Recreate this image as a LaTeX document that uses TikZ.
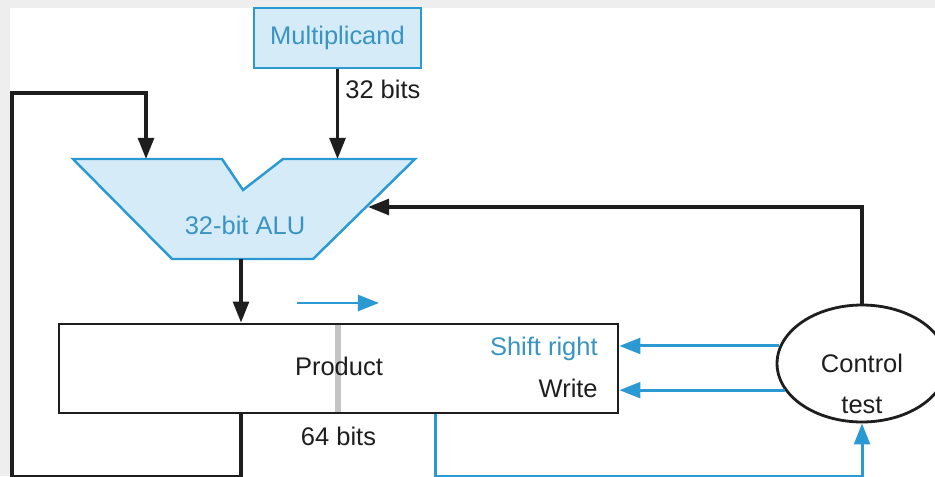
\documentclass[tikz,border=0pt]{standalone}
\usepackage{fontspec}
\setsansfont{Liberation Sans}
\usepackage{tikz}
\usetikzlibrary{arrows.meta,shapes.geometric,positioning}
\definecolor{hwBlue}{HTML}{2B9AD3}
\definecolor{hwFill}{HTML}{D5EBF7}
\definecolor{hwText}{HTML}{3A94C2}
\definecolor{hwInk}{HTML}{1E1E1E}
\definecolor{hwPage}{HTML}{EEEEEE}
\definecolor{hwSplit}{HTML}{C4C4C4}
\tikzset{
  hw diagram/.style={font=\sffamily\fontsize{14.5}{17}\selectfont, text=hwInk},
  hw box/.style={draw=hwBlue, fill=hwFill, line width=1.4pt, text=hwText,
    inner sep=0pt},
  hw reg/.style={draw=hwInk, line width=1.6pt, inner sep=0pt},
  hw ctl/.style={draw=hwInk, line width=1.6pt, ellipse, inner sep=0pt,
    minimum width=3.4cm, minimum height=2.34cm},
  hw label/.style={inner sep=0pt},
  hw wire/.style={draw=hwInk, line width=1.9pt},
  hw arrow/.style={hw wire, -{Triangle[length=12pt,width=9pt]}},
  hw signal/.style={draw=hwBlue, line width=1.7pt,
    -{Triangle[length=12pt,width=9pt]}},
  hw split/.style={draw=hwSplit, line width=3.5pt}
}

\begin{document}
\begin{tikzpicture}[hw diagram,x=0.02cm,y=-0.02cm]
\useasboundingbox (0,0) rectangle (935,476);
\clip (0,0) rectangle (935,476);
\fill[hwPage] (0,0) rectangle (935,476);
\fill[white] (10,8) rectangle (935,476);
% registers
\node[hw box, minimum width=3.34cm, minimum height=1.2cm] (mcand) at (337.5,38) {Multiplicand};
\node[hw label, anchor=west] (narrow) at (345,89) {32 bits};
\node[hw reg, minimum width=11.18cm, minimum height=1.78cm] (prod) at (338.5,368.5) {};
\draw[hw split] (338,325) -- (338,412);
\node[hw label] (prodname) at (339,366) {Product};
\node[hw label, anchor=east, text=hwText] (shift) at (598,349) {Shift right};
\node[hw label, anchor=east] (write) at (598,388) {Write};
\node[hw label] (wide) at (338.5,436) {64 bits};
% ALU
\draw[hw box] (73,159) -- (222,159) -- (243,190) -- (283,159) -- (415,159)
  -- (313,259) -- (172,259) -- cycle;
\node[hw label, text=hwText] (alu) at (245,225) {32-bit ALU};
\coordinate (alu a) at (146,159);
\coordinate (alu b) at (337.5,159);
\coordinate (alu out) at (241,259);
\coordinate (alu ctl) at (368,207);
% control
\node[hw ctl] (ctl) at (862,363.5) {Control};
\node[hw label] (ctltest) at (862,405) {test};
% datapath
\draw[hw arrow] (mcand) -- (alu b);
\draw[hw arrow] (alu out) -- (alu out |- prod.north);
\draw[hw arrow] (prod.south -| alu out) -- ++(0,62) -| (12,93) -| (alu a);
\draw[hw arrow] (ctl.north) |- (alu ctl);
% control signals
\draw[hw signal] (ctl.168) -- (ctl.168 -| prod.east);
\draw[hw signal] (ctl.199) -- (ctl.199 -| prod.east);
\draw[hw signal] (prod.south -| 435,0) -- ++(0,62) -| (ctl.south);
\draw[hw signal] (297,303) -- (379,303);
\end{tikzpicture}
\end{document}
